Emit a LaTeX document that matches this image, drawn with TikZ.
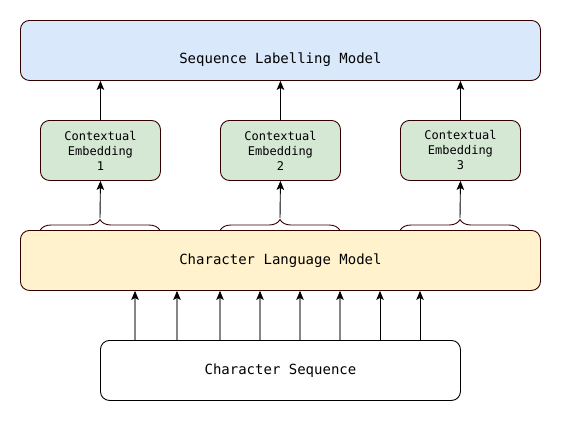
\documentclass[tikz,border=0pt]{standalone}
\usepackage{fontspec}
\setmonofont{DejaVu Sans Mono}
\usetikzlibrary{arrows.meta,decorations.pathreplacing}
\definecolor{strk}{HTML}{330000}
\definecolor{blueF}{HTML}{DAE8FC}
\definecolor{greenF}{HTML}{D5E8D4}
\definecolor{yellowF}{HTML}{FFF2CC}
\tikzset{
  box/.style={draw=strk, rounded corners=9pt, line width=0.9pt, anchor=north west, inner sep=0pt, align=center, font=\ttfamily\fontsize{14}{16}\selectfont},
  ebox/.style={box, fill=greenF, minimum width=120pt, minimum height=60pt, font=\ttfamily\fontsize{12}{15}\selectfont},
  arr/.style={-{Stealth[length=9pt,width=7.5pt,inset=2pt]}, line width=0.9pt, black},
  garr/.style={-{Stealth[length=9pt,width=7.5pt,inset=2pt,color=black,line width=0.5pt]}, draw=gray!95, line width=1.8pt},
  brc/.style={decorate, decoration={brace, amplitude=11pt}, draw=strk, line width=0.9pt}
}
\begin{document}
\begin{tikzpicture}[x=1pt,y=-1pt]
\useasboundingbox (0,0) rectangle (561,421);
\node[box, fill=blueF, minimum width=520pt, minimum height=60pt, text height=26pt, text depth=0pt] (slm) at (20,20) {Sequence Labelling Model};
\node[ebox] (e1) at (40,120) {Contextual\\Embedding\\1};
\node[ebox] (e2) at (220,120) {Contextual\\Embedding\\2};
\node[ebox] (e3) at (400,120) {Contextual\\Embedding\\3};
\node[box, fill=yellowF, minimum width=520pt, minimum height=60pt] (clm) at (20,230) {Character Language Model};
\node[box, draw=black, fill=white, minimum width=360pt, minimum height=60pt] (cs) at (100,340) {Character Sequence};
% braces
\foreach \i/\a/\b in {1/40/160, 2/220/340, 3/400/520}{
  \coordinate (bl\i) at (\a,230.5);
  \coordinate (br\i) at (\b,230.5);
  \draw[brc] (bl\i) -- (br\i);
  \coordinate (bt\i) at ({(\a+\b)/2},218);
}
\draw[arr] (bt1) -- (e1.south);
\draw[arr] (bt2) -- (e2.south);
\draw[arr] (bt3) -- (e3.south);
\draw[arr] (e1.north) -- (e1.north |- slm.south);
\draw[arr] (e2.north) -- (e2.north |- slm.south);
\draw[arr] (e3.north) -- (e3.north |- slm.south);
% character arrows
\foreach \x in {135,177,220,260,300,340}{
  \coordinate (cf\x) at (\x,340);
  \draw[garr] (cf\x) -- (cf\x |- clm.south);
}
\foreach \x in {380,420}{
  \coordinate (cf\x) at (\x,340);
  \draw[arr] (cf\x) -- (cf\x |- clm.south);
}
\end{tikzpicture}
\end{document}
